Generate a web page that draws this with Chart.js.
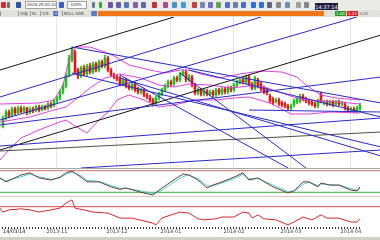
<!DOCTYPE html>
<html lang="en">
<head>
<meta charset="UTF-8">
<title>Daily chart</title>
<script src="https://cdn.jsdelivr.net/npm/chart.js"></script>
<style>
  body { margin: 0; width: 380px; height: 240px; overflow: hidden; background: #d4d0c8; position: relative; font-family: "DejaVu Sans", sans-serif; }
  .bar1 { position: absolute; left: 0; top: 0; width: 380px; height: 10px; background: #ecebe6; }
  .ico { position: absolute; top: 2px; width: 5px; height: 6px; border-radius: 1px; }
  .box { position: absolute; top: 1px; height: 8px; background: #fff; border: 1px solid #a0a0a0; box-sizing: border-box; font-size: 4px; line-height: 6px; color: #333; padding-left: 1px; white-space: nowrap; overflow: hidden; }
  .clock { position: absolute; left: 315px; top: 3px; width: 23px; height: 8px; background: #1c1c44; color: #fff; font-size: 5px; line-height: 8px; text-align: center; }
  .bar2 { position: absolute; left: 0; top: 10px; width: 380px; height: 7px; background: #e2e0da; font-size: 4px; line-height: 7px; color: #444; }
  .tab { position: absolute; top: 1px; height: 5px; line-height: 5px; border-left: 1px solid #999; padding-left: 1px; }
  .orange { position: absolute; left: 98px; top: 1px; width: 226px; height: 5px; background: #f07818; }
  .tag { position: absolute; top: 1px; height: 5px; line-height: 5px; color: #fff; font-size: 4px; padding: 0 1px; }
  .panel { position: absolute; left: 0; width: 380px; background: #fff; }
  .sep { position: absolute; left: 0; width: 380px; height: 1px; }
  .date { position: absolute; left: 3px; top: 229px; font-size: 5px; line-height: 5px; color: #222; background: #fff; }
  canvas { display: block; }
</style>
</head>
<body>
  <div class="bar1">
    <div class="ico" style="left:1px;background:#d03030"></div>
    <div class="ico" style="left:7px;background:#707070;width:3px"></div>
    <div class="ico" style="left:16px;background:#3050b0"></div>
    <div class="box" style="left:25px;width:32px">0026.25.00 01:12</div>
    <div class="ico" style="left:59px;background:#3a5cc8"></div>
    <div class="box" style="left:67px;width:20px">-100%</div>
    <div class="ico" style="left:92px;background:#6080a0;width:3px"></div>
    <div class="ico" style="left:99px;background:#40a040;width:3px"></div>
    <div class="ico" style="left:108px;background:#7050a0"></div>
    <div class="ico" style="left:116px;background:#6060b0"></div>
    <div class="ico" style="left:124px;background:#5078c0"></div>
    <div class="ico" style="left:133px;background:#8060a0"></div>
    <div class="ico" style="left:141px;background:#6068b0"></div>
    <div class="ico" style="left:152px;background:#c03040"></div>
    <div class="ico" style="left:163px;background:#a05090"></div>
    <div class="ico" style="left:172px;background:#5090d0"></div>
    <div class="ico" style="left:181px;background:#40a0d0"></div>
    <div class="ico" style="left:192px;background:#c04040"></div>
    <div class="ico" style="left:200px;background:#8080b0"></div>
    <div class="ico" style="left:208px;background:#7070c0"></div>
    <div class="ico" style="left:216px;background:#60a060"></div>
    <div class="ico" style="left:225px;background:#5070c0"></div>
    <div class="ico" style="left:233px;background:#7080a0"></div>
    <div class="ico" style="left:241px;background:#506cc0"></div>
    <div class="ico" style="left:251px;background:#3070d0"></div>
    <div class="ico" style="left:259px;background:#3070d0"></div>
    <div class="ico" style="left:267px;background:#606080"></div>
    <div class="ico" style="left:276px;background:#8a8a8a"></div>
    <div class="ico" style="left:285px;background:#7090b0"></div>
    <div class="ico" style="left:296px;background:#a0a0a0"></div>
    <div class="ico" style="left:304px;background:#808890"></div>
    <div class="clock">14:37:14</div>
  </div>
  <div class="bar2">
    <div class="tab" style="left:0px">&nbsp;</div>
    <div class="tab" style="left:18px">日线</div>
    <div class="tab" style="left:30px">5L</div>
    <div class="tab" style="left:40px">1/5</div>
    <div class="tab" style="left:53px;background:#4060c0;color:#fff">K</div>
    <div class="tab" style="left:62px">BOLL SAR</div>
    <div class="tab" style="left:91px;background:#5080d0;width:4px"></div>
    <div class="orange"></div>
    <div class="tag" style="left:335px;background:#2a9a2a">1.00</div>
    <div class="tag" style="left:347px;background:#d02020">1.23</div>
    <div class="tag" style="left:357px;color:#666">-0.02</div>
  </div>

  <div class="panel" style="top:17px;height:151px"><canvas id="priceChart" width="380" height="151"></canvas></div>
  <div class="panel" style="top:168px;height:28px"><canvas id="stochChart" width="380" height="28"></canvas></div>
  <div class="panel" style="top:196px;height:41px"><canvas id="rsiChart" width="380" height="41"></canvas></div>
  <div class="sep" style="top:168px;background:#a8a8a8"></div>
  <div class="sep" style="top:196px;background:#dcc8c8"></div>
  <div class="date">14/03/14</div>

<script>
// candles, one per trading day (x = day index)
const opens = [7.5, 8.2, 8.8, 8.5, 9.1, 8.7, 9.2, 8.9, 9.2, 8.8, 9.1, 9.0, 9.3, 9.0, 9.3, 9.2, 9.6, 9.5, 9.9, 10.2,
  10.8, 11.4, 12.5, 14.0, 14.8, 13.0, 12.4, 13.2, 12.6, 13.4, 12.8, 13.6, 13.0, 13.8, 13.4, 14.2, 13.0, 12.5, 12.3, 12.2,
  11.6, 12.0, 11.4, 11.2, 11.6, 11.1, 10.8, 11.0, 10.5, 10.3, 10.0, 9.7, 10.2, 10.6, 11.0, 11.4, 11.8, 11.6, 12.2, 12.0,
  12.6, 12.8, 12.0, 12.3, 11.5, 10.7, 11.0, 10.6, 10.9, 10.6, 10.8, 10.5, 11.0, 10.7, 11.1, 10.8, 11.2, 11.0, 11.5, 11.8,
  12.0, 11.8, 12.3, 11.6, 11.2, 12.0, 11.6, 11.2, 11.0, 10.4, 10.1, 9.9, 10.0, 9.7, 9.6, 9.4, 9.2, 9.5, 9.8, 9.9,
  10.4, 10.1, 9.9, 9.8, 9.6, 9.4, 10.7, 9.7, 9.8, 9.6, 9.8, 9.6, 9.8, 9.6, 9.6, 9.2, 9.0, 9.1, 8.9, 9.1];
const closes = [8.2, 8.8, 8.4, 9.1, 8.7, 9.2, 8.8, 9.2, 8.7, 9.1, 8.9, 9.3, 9.0, 9.3, 9.1, 9.6, 9.4, 9.9, 10.2, 10.8,
  11.4, 12.5, 14.2, 15.0, 12.8, 12.4, 13.2, 12.6, 13.4, 12.8, 13.6, 13.0, 13.8, 13.4, 14.2, 13.0, 12.5, 12.3, 12.1, 11.6,
  12.0, 11.4, 11.2, 11.6, 11.0, 10.8, 11.0, 10.5, 10.3, 10.0, 9.7, 10.2, 10.6, 11.0, 11.4, 11.8, 11.6, 12.2, 12.0, 12.6,
  12.8, 12.0, 12.4, 11.5, 10.7, 11.0, 10.6, 10.9, 10.6, 10.8, 10.5, 11.0, 10.7, 11.1, 10.8, 11.2, 11.0, 11.5, 11.8, 12.0,
  11.8, 12.3, 11.6, 11.2, 12.2, 11.4, 11.1, 10.8, 10.7, 9.9, 9.7, 10.0, 9.6, 9.5, 9.4, 9.2, 9.4, 9.9, 10.1, 10.4,
  10.1, 9.9, 9.7, 9.6, 9.4, 10.0, 9.8, 9.8, 9.6, 9.8, 9.5, 9.8, 9.6, 9.7, 9.2, 9.0, 9.1, 8.9, 9.2, 9.5];
const highs = [8.4, 9.0, 9.0, 9.3, 9.3, 9.4, 9.4, 9.4, 9.3, 9.3, 9.3, 9.5, 9.5, 9.5, 9.5, 9.8, 9.8, 10.1, 10.4, 11.0,
  11.6, 12.7, 14.5, 15.3, 15.0, 13.2, 13.4, 13.5, 13.6, 13.7, 13.8, 13.8, 14.0, 14.0, 14.5, 14.4, 13.2, 12.7, 12.5, 12.4,
  12.2, 12.2, 11.6, 11.8, 11.8, 11.3, 11.2, 11.2, 10.7, 10.5, 10.2, 10.4, 10.8, 11.2, 11.6, 12.0, 12.0, 12.4, 12.4, 12.8,
  13.0, 13.0, 12.6, 12.5, 11.7, 11.2, 11.2, 11.1, 11.1, 11.0, 11.0, 11.2, 11.2, 11.3, 11.3, 11.4, 11.4, 11.7, 12.0, 12.2,
  12.2, 12.5, 12.5, 11.8, 12.4, 12.2, 11.8, 11.4, 11.2, 10.6, 10.3, 10.2, 10.2, 9.9, 9.8, 9.6, 9.6, 10.1, 10.3, 10.6,
  10.6, 10.3, 10.1, 10.0, 9.8, 10.1, 10.8, 10.0, 10.0, 10.0, 10.0, 10.0, 10.0, 9.9, 9.8, 9.4, 9.3, 9.3, 9.4, 9.7];
const lows = [7.2, 8.0, 8.2, 8.3, 8.5, 8.6, 8.7, 8.7, 8.5, 8.6, 8.7, 8.8, 8.8, 8.9, 9.0, 9.0, 9.2, 9.3, 9.7, 10.0,
  10.6, 11.2, 12.3, 13.8, 12.6, 12.1, 12.2, 12.4, 12.4, 12.6, 12.6, 12.8, 12.8, 13.2, 13.2, 12.8, 12.3, 12.1, 11.9, 11.4,
  11.4, 11.2, 11.0, 11.0, 10.8, 10.6, 10.6, 10.3, 10.1, 9.8, 9.4, 9.5, 10.0, 10.4, 10.8, 11.2, 11.4, 11.4, 11.8, 11.8,
  12.4, 11.8, 11.8, 11.3, 10.5, 10.5, 10.4, 10.4, 10.4, 10.4, 10.3, 10.3, 10.5, 10.5, 10.6, 10.6, 10.8, 10.8, 11.3, 11.6,
  11.6, 11.6, 11.4, 11.0, 11.0, 11.2, 10.9, 10.6, 10.5, 9.7, 9.5, 9.7, 9.4, 9.3, 9.2, 9.0, 9.0, 9.3, 9.6, 9.7,
  9.9, 9.7, 9.5, 9.4, 9.2, 9.2, 9.7, 9.5, 9.4, 9.4, 9.3, 9.4, 9.4, 9.4, 9.0, 8.8, 8.8, 8.7, 8.7, 8.9];

// bollinger bands, read at turning points
const upperIdx = [-1, 12, 17, 20, 22, 24, 29, 34, 37, 42, 49, 54, 59, 62, 66, 72, 79, 86, 93, 98, 101, 106, 111, 119];
const upperBand = [9.6, 9.7, 10.0, 11.5, 14.0, 15.3, 15.3, 14.8, 14.4, 13.5, 13.0, 12.7, 13.0, 13.0, 12.6, 12.2, 12.6, 12.9, 12.8, 12.3, 11.5, 10.5, 10.2, 10.0];
const midIdx = [-1, 9, 17, 21, 24, 29, 34, 39, 46, 52, 57, 62, 69, 76, 82, 87, 92, 99, 106, 112, 119];
const midBand = [7.8, 8.3, 9.0, 9.3, 10.0, 11.2, 12.2, 12.6, 12.2, 11.5, 11.3, 11.6, 11.5, 11.2, 11.4, 11.3, 10.8, 10.1, 9.9, 9.8, 9.6];
const lowerIdx = [-1, 2, 6, 12, 18, 21, 24, 28, 32, 35, 38, 42, 47, 52, 57, 64, 71, 77, 82, 89, 96, 102, 109, 119];
const lowerBand = [4.0, 5.0, 6.2, 7.0, 7.7, 8.0, 7.4, 6.7, 8.0, 8.8, 10.0, 10.5, 10.0, 9.3, 9.5, 10.0, 10.0, 10.2, 10.3, 9.7, 8.6, 8.6, 8.8, 8.7];

// drawn trend lines: [day1, price1, day2, price2]
const blackLines = [[-1, 13.0, 57, 18.3], [-1, 5.0, 126, 16.5]];
const greyLines = [[-1, 4.9, 126, 6.8]];
const blueLines = [
  [-1, 10.3, 86, 18.3], [-1, 8.0, 118, 18.3], [-1, 7.5, 126, 12.3], [-1, 5.4, 126, 8.2], [26, 3.2, 126, 5.0],
  [23, 15.3, 126, 9.7], [23, 12.7, 126, 5.3], [39, 12.2, 126, 4.4], [62, 13.0, 126, 8.3],
  [39, 12.5, 95, 3.2], [59, 12.7, 101, 3.2], [82, 9.0, 126, 8.8]
];

// stochastic
const stochIdx = [-1, 1, 6, 9, 12, 16, 19, 21, 23, 26, 28, 32, 36, 39, 41, 46, 50, 53, 56, 60, 62, 65, 68, 70, 73, 77, 80, 82, 85, 90, 95, 97, 100, 102, 105, 106, 109, 112, 116, 118, 119];
const stochK = [60, 49, 68, 74, 60, 54, 62, 74, 79, 62, 49, 49, 35, 28, 32, 20, 12.5, 32, 49, 71, 68, 54, 32, 40, 49, 62, 74, 54, 60, 35, 18, 24, 49, 49, 35, 46, 40, 40, 26, 24, 35];
const stochD = [58, 52, 63, 71, 63, 56, 60, 70, 76, 66, 53, 50, 39, 31, 31, 24, 16, 26, 43, 64, 68, 58, 38, 38, 46, 58, 70, 58, 58, 40, 22, 22, 42, 48, 39, 43, 41, 40, 30, 25, 30];
const stochLevels = [80, 20];

// rsi
const rsiIdx = [-1, 0, 2, 6, 9, 12, 16, 19, 21, 23, 24, 27, 30, 35, 39, 43, 50, 51, 53, 56, 59, 62, 65, 67, 71, 73, 77, 80, 82, 83, 85, 87, 91, 95, 97, 100, 103, 106, 108, 112, 116, 118, 119];
const rsiVals = [66, 55, 61, 64, 61, 55, 61, 66, 80, 89, 66, 61, 55, 52, 38, 38, 24, 19, 38, 47, 55, 52, 36, 33, 36, 41, 41, 55, 52, 38, 47, 36, 33, 19, 27, 41, 33, 47, 38, 38, 27, 27, 36];
const rsiLevel = 70;

// month ticks
const monthIdx = [18, 38, 56, 77, 96, 116];
const monthLabels = ['2013-11', '2013-12', '2014-01', '2014-02', '2014-03', '2014-04'];

const X_MIN = -1, X_MAX = 125.67;
const UP = '#20c020', DOWN = '#e01818', BLUE = '#2a2ac8', PINK = '#e040e0';

function pts(xs, ys) { return xs.map((x, i) => ({ x: x, y: ys[i] })); }
function seg(l, color) {
  return { type: 'line', data: [{ x: l[0], y: l[1] }, { x: l[2], y: l[3] }], borderColor: color, borderWidth: 1, pointRadius: 0, order: 0 };
}
function curve(data, color, order) {
  return { type: 'line', data: data, borderColor: color, borderWidth: 1, pointRadius: 0, tension: 0, order: order };
}
function hline(v, color) {
  return { type: 'line', data: [{ x: X_MIN, y: v }, { x: X_MAX, y: v }], borderColor: color, borderWidth: 1, pointRadius: 0, order: 2 };
}
const common = {
  responsive: false, animation: false, events: [],
  layout: { padding: 0 },
  plugins: { legend: { display: false }, tooltip: { enabled: false } }
};
const candleColors = closes.map((c, i) => c >= opens[i] ? UP : DOWN);

// price panel
new Chart(document.getElementById('priceChart'), {
  type: 'bar',
  data: {
    datasets: [
      { data: lows.map((l, i) => ({ x: i, y: [l, highs[i]] })), backgroundColor: candleColors, barThickness: 1, grouped: false, order: 3 },
      { data: opens.map((o, i) => ({ x: i, y: [o, closes[i]] })), backgroundColor: candleColors, barThickness: 2, grouped: false, order: 3 },
      curve(pts(upperIdx, upperBand), PINK, 1),
      curve(pts(midIdx, midBand), PINK, 1),
      curve(pts(lowerIdx, lowerBand), PINK, 1),
      ...blueLines.map(l => seg(l, BLUE)),
      ...blackLines.map(l => seg(l, '#141414')),
      ...greyLines.map(l => seg(l, '#505040'))
    ]
  },
  options: {
    ...common,
    scales: {
      x: {
        type: 'linear', min: X_MIN, max: X_MAX, offset: false,
        afterBuildTicks: s => { s.ticks = monthIdx.map(v => ({ value: v })); },
        afterFit: s => { s.height = 0; },
        ticks: { display: false },
        grid: { color: '#e4e4e4', drawTicks: false, offset: false },
        border: { display: false }
      },
      y: { display: false, min: 3.2, max: 18.3 }
    }
  }
});

// stochastic panel
new Chart(document.getElementById('stochChart'), {
  type: 'line',
  data: {
    datasets: [
      hline(stochLevels[0], '#c87060'),
      hline(stochLevels[1], '#38b038'),
      curve(pts(stochIdx, stochD), '#40d8d8', 1),
      curve(pts(stochIdx, stochK), '#7a3838', 0)
    ]
  },
  options: {
    ...common,
    scales: {
      x: { type: 'linear', display: false, min: X_MIN, max: X_MAX },
      y: { display: false, min: 9.7, max: 87.5 }
    }
  }
});

// rsi panel with the date axis
new Chart(document.getElementById('rsiChart'), {
  type: 'line',
  data: {
    datasets: [
      hline(rsiLevel, '#d04848'),
      curve(pts(rsiIdx, rsiVals), '#d82828', 0)
    ]
  },
  options: {
    ...common,
    scales: {
      x: {
        type: 'linear', min: X_MIN, max: X_MAX,
        afterBuildTicks: s => { s.ticks = opens.map((o, i) => ({ value: i })); },
        afterFit: s => { s.height = 10; },
        ticks: {
          autoSkip: false, maxRotation: 0, padding: 0, color: '#444',
          font: { size: 5, family: 'DejaVu Sans' },
          callback: v => { const k = monthIdx.indexOf(v); return k >= 0 ? monthLabels[k] : ''; }
        },
        grid: { drawOnChartArea: false, tickLength: 2, tickColor: '#333' },
        border: { display: false }
      },
      y: { display: false, min: 13, max: 100 }
    }
  }
});
</script>
</body>
</html>
